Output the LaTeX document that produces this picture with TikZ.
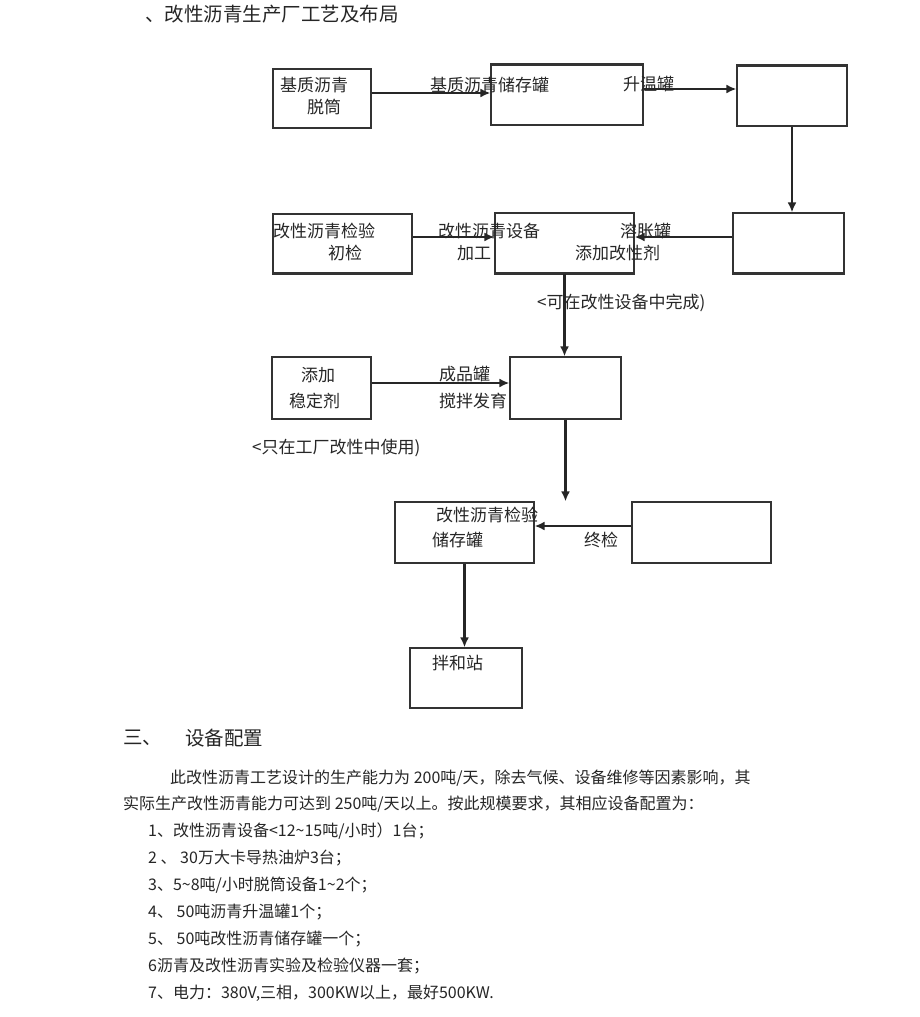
\documentclass[tikz,border=0pt]{standalone}
\usepackage{fontspec}
\setmainfont{Noto Sans CJK SC}
\usepackage{tikz}
\usetikzlibrary{
  arrows.meta,
  calc
}
\colorlet{boxLine}{black!80}
\colorlet{inkText}{black!85}
\tikzset{
  every node/.style={text=inkText},
  tank/.style={draw=boxLine,line width=1.2pt,inner sep=0pt},
  flow/.style={draw=black!85,line width=2.3pt,-{Latex[length=10pt,width=9pt]}},
}

\begin{document}
\begin{tikzpicture}[
  x=1pt,y=-1pt,
  lbl/.style={anchor=west,inner sep=0pt,font=\fontsize{17}{17}\selectfont},
  body/.style={anchor=west,inner sep=0pt,font=\fontsize{16}{16}\selectfont},
  heading/.style={anchor=west,inner sep=0pt,font=\fontsize{19.5}{20}\selectfont},
]
\useasboundingbox[fill=white] (0,0) rectangle (920,1017);

\node[heading] (title) at (145,14) {、改性沥青生产厂工艺及布局};

% tanks and stations
\node[tank,minimum width=98,minimum height=59]  (raw)     at (322,98.5)   {};
\node[tank,minimum width=152,minimum height=60] (store)   at (567,95)     {};
\node[tank,minimum width=110,minimum height=60] (heat)    at (792,96)     {};
\node[tank,minimum width=139,minimum height=59] (check)   at (342.5,243.5) {};
\node[tank,minimum width=139,minimum height=60] (modify)  at (564.5,243)  {};
\node[tank,minimum width=111,minimum height=60] (swell)   at (788.5,243)  {};
\node[tank,minimum width=99,minimum height=62]  (stab)    at (321.5,388)  {};
\node[tank,minimum width=111,minimum height=62] (product) at (565.5,388)  {};
\node[tank,minimum width=139,minimum height=61] (storage) at (464.5,532.5) {};
\node[tank,minimum width=139,minimum height=61] (final)   at (701.5,532.5) {};
\node[tank,minimum width=112,minimum height=60] (plant)   at (466,678)    {};
\draw[line width=2.4pt,boxLine] (store.north west) -- (store.north east);
\draw[line width=2.4pt,boxLine] (heat.north west) -- (heat.north east);
\foreach \n in {check,modify,swell}
  \draw[line width=2pt,boxLine] (\n.south west) -- (\n.south east);

% flow
\draw[flow] ([yshift=5.5pt]raw.east) -- ([yshift=5.5pt]raw.east -| store.west);
\draw[flow] ([yshift=6pt]store.east) -- ([yshift=6pt]store.east -| heat.west);
\draw[flow] (heat.south) -- (heat.south |- swell.north);
\draw[flow] ([yshift=6pt]swell.west) -- ([yshift=6pt]swell.west -| modify.east);
\draw[flow] ([yshift=6.5pt]check.east) -- ([yshift=6.5pt]check.east -| modify.west);
\draw[flow] (modify.south) -- (modify.south |- product.north);
\draw[flow] ([yshift=5pt]stab.east) -- ([yshift=5pt]stab.east -| product.west);
\draw[flow] (product.south) -- (product.south |- storage.north);
\draw[flow] ([yshift=6.5pt]final.west) -- ([yshift=6.5pt]final.west -| storage.east);
\draw[flow] (storage.south) -- (storage.south |- plant.north);

% labels
\node[lbl] (rawA)     at (280,85)  {基质沥青};
\node[lbl] (rawB)     at (307,107) {脱筒};
\node[lbl] (storeL)   at (430,85)  {基质沥青储存罐};
\node[lbl] (heatL)    at (623,84)  {升温罐};
\node[lbl] (checkA)   at (273,231) {改性沥青检验};
\node[lbl] (checkB)   at (328,253) {初检};
\node[lbl] (modifyA)  at (438,231) {改性沥青设备};
\node[lbl] (modifyB)  at (457,253) {加工};
\node[lbl] (swellA)   at (620,231) {溶胀罐};
\node[lbl] (swellB)   at (575,253) {添加改性剂};
\node[lbl] (noteA)    at (537,303) {<可在改性设备中完成)};
\node[lbl] (stabA)    at (301,375) {添加};
\node[lbl] (stabB)    at (289,401) {稳定剂};
\node[lbl] (productA) at (439,374) {成品罐};
\node[lbl] (productB) at (439,401) {搅拌发育};
\node[lbl] (noteB)    at (252,448) {<只在工厂改性中使用)};
\node[lbl] (storageA) at (436,515) {改性沥青检验};
\node[lbl] (storageB) at (432,540) {储存罐};
\node[lbl] (finalL)   at (584,540) {终检};
\node[lbl] (plantL)   at (432,663) {拌和站};

% equipment list
\node[heading] (secNo)  at (123,738) {三、};
\node[heading] (secTtl) at (185,738) {设备配置};
\node[body] (para1) at (170,778) {此改性沥青工艺设计的生产能力为 200吨/天，除去气候、设备维修等因素影响，其};
\node[body] (para2) at (123,804) {实际生产改性沥青能力可达到 250吨/天以上。按此规模要求，其相应设备配置为：};
\foreach \txt [count=\i] in {
  {1、改性沥青设备<12\textasciitilde15吨/小时）1台；},
  {2 、 30万大卡导热油炉3台；},
  {3、5\textasciitilde8吨/小时脱筒设备1\textasciitilde2个；},
  {4、 50吨沥青升温罐1个；},
  {5、 50吨改性沥青储存罐一个；},
  {6沥青及改性沥青实验及检验仪器一套；},
  {7、电力：380V,三相，300KW以上，最好500KW.}
}
  \node[body] (item\i) at (148,{804+27*\i}) {\txt};
\end{tikzpicture}
\end{document}
